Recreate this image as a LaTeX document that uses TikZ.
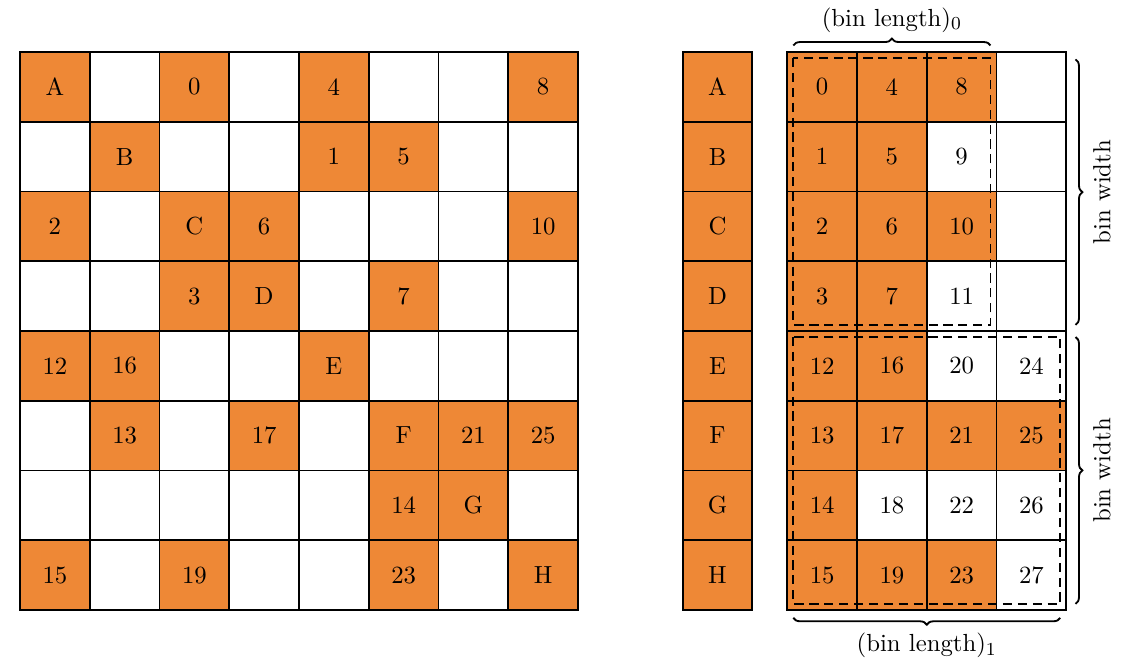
\documentclass[tikz,border=0pt]{standalone}
\usetikzlibrary{calc}
\usetikzlibrary{decorations.pathreplacing}
\definecolor{binorange}{RGB}{238,136,54}

\begin{document}
\begin{tikzpicture}[x=1.07cm, y=1.07cm,
    every node/.style={font=\fontsize{10.8}{13}\selectfont},
    cell/.style={draw, line width=0.8pt, minimum size=1.07cm, inner sep=0pt},
    full/.style={cell, fill=binorange},
    binbox/.style={draw, dash pattern=on 4pt off 2.5pt, line width=0.8pt},
    bracebar/.style={decorate, decoration={brace, amplitude=3pt}, line width=0.8pt}]
  \useasboundingbox (-0.287, -0.832) rectangle (15.914, 8.745);

  % sparse matrix
  \foreach \r in {0,...,7}
    \foreach \c in {0,...,7}
      \node[cell] (L-\r-\c) at (\c+0.5, 7.5-\r) {};
  \foreach \c/\r/\t in {0/0/A, 2/0/0, 4/0/4, 7/0/8,
                        1/1/B, 4/1/1, 5/1/5,
                        0/2/2, 2/2/C, 3/2/6, 7/2/10,
                        2/3/3, 3/3/D, 5/3/7,
                        0/4/12, 1/4/16, 4/4/E,
                        1/5/13, 3/5/17, 5/5/F, 6/5/21, 7/5/25,
                        5/6/14, 6/6/G,
                        0/7/15, 2/7/19, 5/7/23, 7/7/H}
    \node[full] (L-\r-\c) at (\c+0.5, 7.5-\r) {\t};

  % diagonal
  \foreach \t [count=\r from 0] in {A,B,C,D,E,F,G,H}
    \node[full] (M-\r) at (10, 7.5-\r) {\t};

  % packed off-diagonal values
  \foreach \c/\r/\t/\f in {0/0/0/full, 1/0/4/full, 2/0/8/full, 3/0/{}/cell,
                           0/1/1/full, 1/1/5/full, 2/1/9/cell, 3/1/{}/cell,
                           0/2/2/full, 1/2/6/full, 2/2/10/full, 3/2/{}/cell,
                           0/3/3/full, 1/3/7/full, 2/3/11/cell, 3/3/{}/cell,
                           0/4/12/full, 1/4/16/full, 2/4/20/cell, 3/4/24/cell,
                           0/5/13/full, 1/5/17/full, 2/5/21/full, 3/5/25/full,
                           0/6/14/full, 1/6/18/cell, 2/6/22/cell, 3/6/26/cell,
                           0/7/15/full, 1/7/19/full, 2/7/23/full, 3/7/27/cell}
    \node[\f] (R-\r-\c) at (11.5+\c, 7.5-\r) {\t};

  % bins
  \draw[binbox] ($(R-0-0.north west)+(0.1,-0.1)$) rectangle ($(R-3-2.south east)+(-0.1,0.1)$);
  \draw[binbox] ($(R-4-0.north west)+(0.1,-0.1)$) rectangle ($(R-7-3.south east)+(-0.1,0.1)$);

  % braces
  \draw[bracebar] ($(R-0-0.north west)+(0.1,0.08)$) -- ($(R-0-2.north east)+(-0.1,0.08)$)
    node[midway, above=2pt] {(bin length)$_0$};
  \draw[bracebar] ($(R-7-3.south east)+(-0.1,-0.1)$) -- ($(R-7-0.south west)+(0.1,-0.1)$)
    node[midway, below=3pt] {(bin length)$_1$};
  \draw[bracebar] ($(R-0-3.north east)+(0.12,-0.12)$) -- ($(R-3-3.south east)+(0.12,0.1)$)
    node[midway, right=4pt, rotate=90, anchor=north] {bin width};
  \draw[bracebar] ($(R-4-3.north east)+(0.12,-0.1)$) -- ($(R-7-3.south east)+(0.12,0.1)$)
    node[midway, right=4pt, rotate=90, anchor=north] {bin width};
\end{tikzpicture}
\end{document}
